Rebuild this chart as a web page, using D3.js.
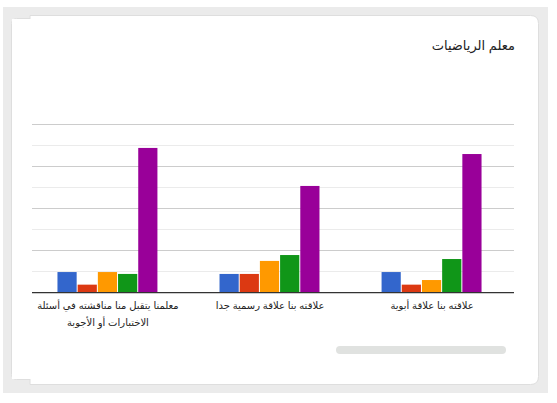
<!DOCTYPE html>
<html>
<head>
<meta charset="utf-8">
<script src="https://cdn.jsdelivr.net/npm/d3@7"></script>
<style>
body { margin: 0; background: #fff; }
text { font-family: Arial, "Liberation Sans", "DejaVu Sans", sans-serif; }
</style>
</head>
<body>
<script>
var title = "معلم الرياضيات";
var categories = [
  "معلمنا يتقبل منا مناقشته في أسئلة الاختبارات أو الأجوبة",
  "علاقته بنا علاقة رسمية جدا",
  "علاقته بنا علاقة أبوية"
];
// five answer series (percent of answers), one value per category
var series1 = [9.5, 8.6, 9.5];
var series2 = [3.5, 8.6, 3.5];
var series3 = [9.5, 14.8, 5.7];
var series4 = [8.6, 17.6, 15.7];
var series5 = [68.6, 50.5, 65.7];
var colors = ["#3366cc", "#dc3912", "#ff9900", "#109618", "#990099"];
var yTicks = [0, 10, 20, 30, 40, 50, 60, 70, 80];

var allSeries = [series1, series2, series3, series4, series5];
var W = 557, H = 403;

var svg = d3.select("body").append("svg")
    .attr("width", W)
    .attr("height", H);

// page background + card
svg.append("rect").attr("x", 3).attr("y", 7).attr("width", 545).attr("height", 386).attr("fill", "#ebebeb");
svg.append("rect").attr("x", 11.5).attr("y", 18.5).attr("width", 40).attr("height", 361)
    .attr("rx", 5).attr("fill", "#fff").attr("stroke", "#dedede");
svg.append("path")
    .attr("d", "M30,15.5 H530.5 Q538.5,15.5 538.5,23.5 V376.5 Q538.5,384.5 530.5,384.5 H30 Z")
    .attr("fill", "#fff").attr("stroke", "#dedede");
svg.append("rect").attr("x", 12).attr("y", 19).attr("width", 30).attr("height", 360).attr("fill", "#fff");

svg.append("text")
    .attr("x", 515).attr("y", 50)
    .attr("text-anchor", "end")
    .attr("font-size", 13)
    .attr("fill", "#222")
    .text(title);

var x = d3.scaleBand()
    .domain(categories)
    .range([27, 513])
    .paddingInner(0.377)
    .paddingOuter(0.188);

var xs = d3.scaleBand()
    .domain(d3.range(allSeries.length))
    .range([0, x.bandwidth()]);

var y = d3.scaleLinear()
    .domain([0, 80])
    .range([292, 124]);

// gridlines
svg.append("g").selectAll("line")
    .data(yTicks.slice(1))
    .enter().append("line")
    .attr("x1", 32).attr("x2", 514)
    .attr("y1", d => Math.round(y(d)) + 0.5)
    .attr("y2", d => Math.round(y(d)) + 0.5)
    .attr("stroke", d => d % 20 === 0 ? "#cccccc" : "#ebebeb");

var groups = svg.append("g").selectAll("g")
    .data(categories)
    .enter().append("g")
    .attr("transform", d => `translate(${x(d)},0)`);

groups.selectAll("rect")
    .data((d, i) => allSeries.map((s, k) => ({ k: k, v: s[i] })))
    .enter().append("rect")
    .attr("x", d => xs(d.k))
    .attr("width", xs.bandwidth() - 1)
    .attr("y", d => y(d.v))
    .attr("height", d => y(0) - y(d.v))
    .attr("fill", d => colors[d.k]);

svg.append("line")
    .attr("x1", 32).attr("x2", 514)
    .attr("y1", y(0) + 0.6).attr("y2", y(0) + 0.6)
    .attr("stroke", "#333").attr("stroke-width", 1.3);

// category labels, wrapped
var labels = svg.append("g").selectAll("text")
    .data(categories)
    .enter().append("text")
    .attr("text-anchor", "middle")
    .attr("font-size", 10)
    .attr("fill", "#222")
    .attr("x", d => x(d) + x.bandwidth() / 2)
    .attr("y", 309);

labels.each(function(d) {
  var t = d3.select(this), cx = t.attr("x");
  var words = d.split(" "), line = [];
  var ts = t.append("tspan").attr("x", cx).attr("dy", 0);
  words.forEach(function(w) {
    line.push(w);
    ts.text(line.join(" "));
    if (ts.node().getComputedTextLength() > 150 && line.length > 1) {
      line.pop();
      ts.text(line.join(" "));
      line = [w];
      ts = t.append("tspan").attr("x", cx).attr("dy", 17).text(w);
    }
  });
});

// scrollbar
svg.append("rect")
    .attr("x", 336).attr("y", 346).attr("width", 170).attr("height", 8)
    .attr("rx", 4).attr("fill", "#e0e2e0");
</script>
</body>
</html>
